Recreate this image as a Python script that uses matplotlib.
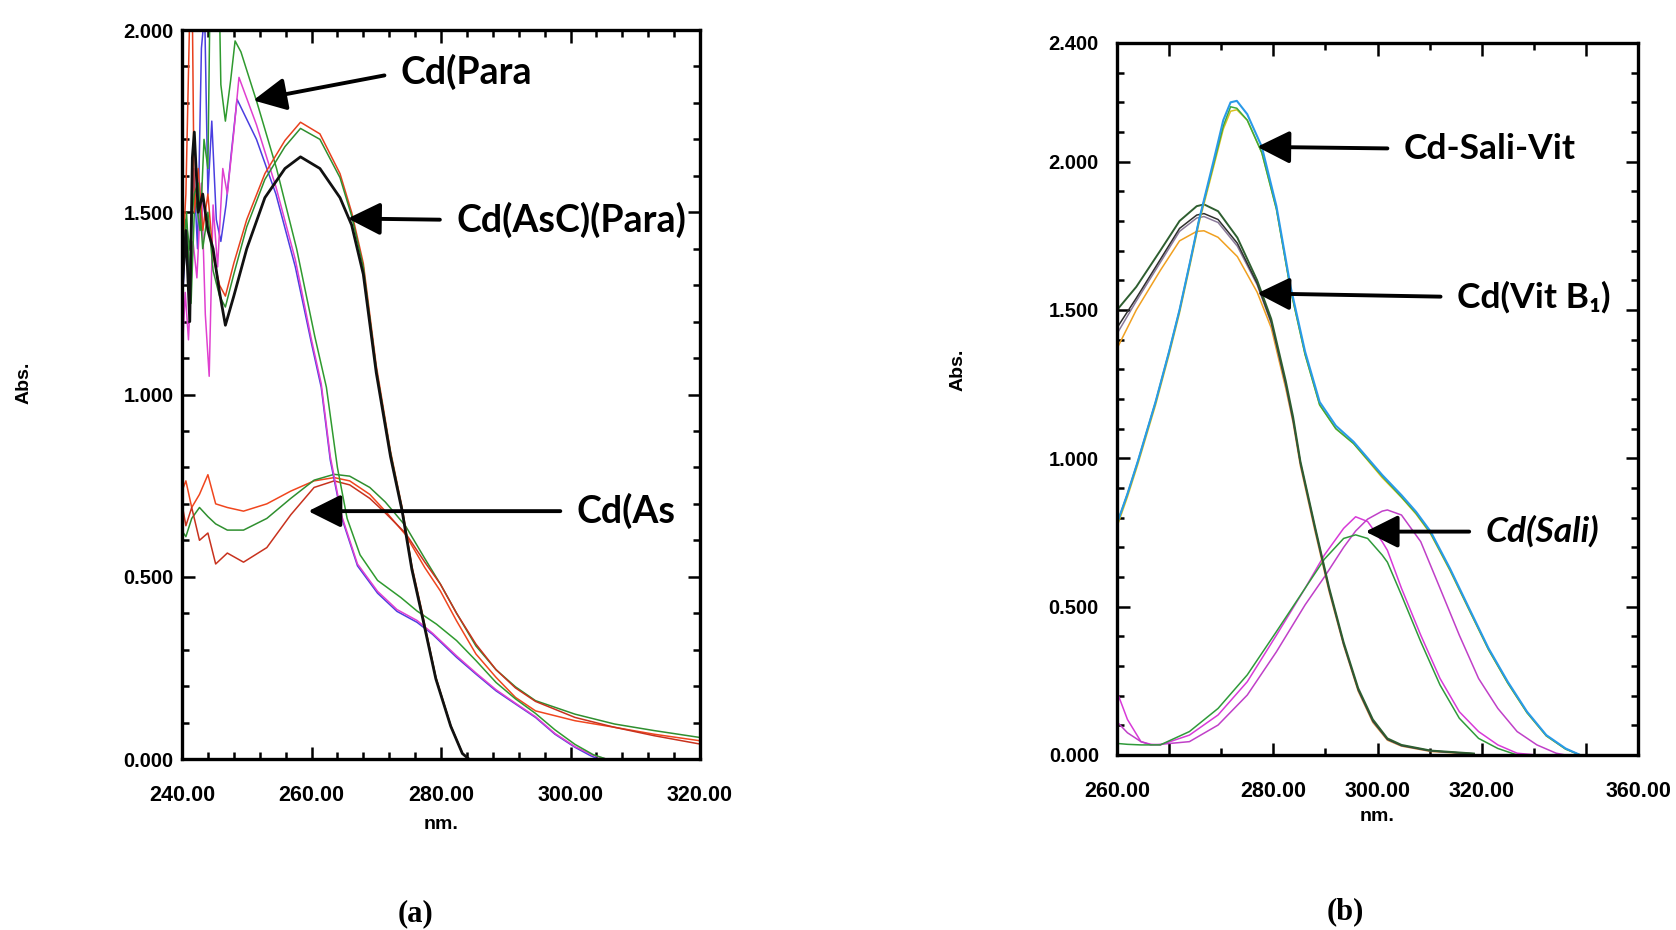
import numpy as np
import matplotlib
matplotlib.use("Agg")
import matplotlib.pyplot as plt
from matplotlib.ticker import MultipleLocator, FixedLocator, FormatStrFormatter

plt.rcParams['font.family'] = ['Liberation Sans', 'DejaVu Sans']
plt.rcParams['font.weight'] = 'bold'

# ---------------- panel (a) data ----------------
para_blue_x = [240.0, 240.6, 241.2, 241.8, 242.4, 243.0, 243.5, 244.0, 244.6, 245.3, 246.0, 246.8, 247.6,
               248.5, 251.5, 254.5, 257.5, 260.0, 261.5, 262.9, 264.7, 267.1, 270.2, 273.2, 276.3, 278.7,
               282.4, 285.4, 288.5, 291.5, 294.6, 297.6, 300.7, 303.1, 304.3]
para_blue_y = [1.22, 1.45, 1.30, 1.62, 1.40, 1.95, 2.05, 1.55, 1.75, 1.48, 1.42, 1.52, 1.66,
               1.81, 1.70, 1.55, 1.35, 1.14, 1.02, 0.82, 0.66, 0.53, 0.455, 0.405, 0.375, 0.342,
               0.279, 0.233, 0.187, 0.151, 0.114, 0.068, 0.032, 0.009, 0.0]

para_mag_x = [240.0, 240.5, 241.0, 241.7, 242.3, 243.0, 243.6, 244.2, 244.8, 245.5, 246.3, 247.0, 248.0,
              248.8, 251.5, 254.5, 257.5, 260.0, 261.5, 262.9, 264.7, 267.1, 270.2, 273.2, 276.3, 278.7,
              282.4, 285.4, 288.5, 291.5, 294.6, 297.6, 300.7, 303.5, 305.5]
para_mag_y = [1.10, 1.28, 1.15, 1.42, 1.32, 1.58, 1.22, 1.05, 1.52, 1.35, 1.62, 1.55, 1.72,
              1.87, 1.74, 1.57, 1.37, 1.15, 1.03, 0.83, 0.665, 0.535, 0.46, 0.41, 0.38, 0.345,
              0.283, 0.236, 0.19, 0.153, 0.116, 0.07, 0.034, 0.01, 0.0]

para_green_x = [240.0, 240.7, 241.4, 242.0, 242.8, 243.4, 244.0, 244.3, 244.5, 245.8, 246.0, 246.7, 247.5,
                248.2, 249.1, 251.6, 254.6, 257.7, 260.5, 262.3, 264.0, 265.5, 267.5, 270.2, 273.8, 276.3,
                279.3, 282.4, 285.4, 288.5, 291.5, 294.6, 297.6, 300.7, 303.5, 305.5]
para_green_y = [1.35, 1.50, 1.25, 1.55, 1.45, 1.70, 1.62, 2.05, 2.05, 2.05, 1.85, 1.75, 1.86,
                1.97, 1.94, 1.80, 1.62, 1.40, 1.16, 1.02, 0.80, 0.66, 0.56, 0.49, 0.443, 0.406,
                0.37, 0.325, 0.27, 0.21, 0.165, 0.125, 0.08, 0.04, 0.012, 0.0]

ascpara_x = [240.0, 240.6, 241.2, 241.6, 241.9, 242.5, 243.2, 244.0, 244.8, 245.8, 246.7, 248.0, 250.0,
             252.8, 255.9, 258.3, 261.3, 264.4, 266.2, 268.0, 270.0, 272.2, 274.0, 275.5, 277.0, 279.2,
             281.5, 283.3, 284.3]
ascpara_red_y = [1.35, 1.55, 2.05, 2.05, 1.50, 1.62, 1.45, 1.55, 1.38, 1.30, 1.27, 1.36, 1.48,
                 1.606, 1.697, 1.747, 1.715, 1.606, 1.50, 1.36, 1.08, 0.845, 0.69, 0.53, 0.41, 0.225,
                 0.092, 0.016, 0.0]
ascpara_green_y = [1.30, 1.48, 1.40, 1.50, 1.55, 1.58, 1.40, 1.50, 1.34, 1.27, 1.24, 1.33, 1.46,
                   1.59, 1.68, 1.73, 1.70, 1.595, 1.49, 1.35, 1.07, 0.84, 0.685, 0.525, 0.405, 0.223,
                   0.091, 0.016, 0.0]
ascpara_black_y = [1.28, 1.45, 1.20, 1.65, 1.72, 1.50, 1.55, 1.45, 1.40, 1.28, 1.19, 1.27, 1.40,
                   1.54, 1.62, 1.652, 1.62, 1.54, 1.465, 1.33, 1.06, 0.83, 0.68, 0.52, 0.40, 0.22,
                   0.09, 0.015, 0.0]

as_x = [240.0, 240.6, 241.5, 242.7, 244.0, 245.2, 247.0, 249.5, 253.1, 256.8, 260.4, 263.5, 265.9,
        269.0, 271.4, 274.5, 277.5, 279.9, 282.4, 285.4, 288.5, 291.5, 294.6, 300.7, 306.8, 312.9, 320.0]
as_red_y = [0.735, 0.763, 0.69, 0.726, 0.78, 0.70, 0.69, 0.68, 0.70, 0.735, 0.763, 0.772, 0.763,
            0.726, 0.68, 0.616, 0.525, 0.461, 0.379, 0.288, 0.224, 0.169, 0.132, 0.105, 0.087, 0.068, 0.05]
as_green_y = [0.626, 0.61, 0.66, 0.69, 0.665, 0.645, 0.628, 0.628, 0.66, 0.715, 0.765, 0.781, 0.776,
              0.745, 0.705, 0.64, 0.55, 0.48, 0.40, 0.31, 0.245, 0.198, 0.16, 0.123, 0.096, 0.078, 0.059]
as_dred_y = [0.70, 0.64, 0.69, 0.60, 0.62, 0.535, 0.565, 0.54, 0.58, 0.67, 0.745, 0.763, 0.752,
             0.715, 0.675, 0.62, 0.54, 0.48, 0.40, 0.315, 0.245, 0.195, 0.158, 0.114, 0.087, 0.064, 0.041]

# ---------------- panel (b) data ----------------
salivit_x = [250.0, 252.0, 254.0, 255.7, 257.4, 260.0, 262.0, 264.0, 265.7, 268.5, 270.4, 271.8, 273.0,
             275.0, 277.8, 280.6, 283.3, 286.1, 288.9, 292.0, 295.4, 300.9, 304.6, 307.4, 310.2, 313.9,
             317.6, 321.3, 325.0, 328.7, 332.4, 336.1, 338.9]
salivit_blue_y = [0.78, 0.88, 0.99, 1.09, 1.19, 1.36, 1.50, 1.66, 1.80, 2.00, 2.14, 2.20, 2.205,
                  2.16, 2.05, 1.85, 1.58, 1.36, 1.19, 1.11, 1.056, 0.944, 0.876, 0.82, 0.753, 0.629,
                  0.494, 0.36, 0.247, 0.146, 0.067, 0.022, 0.0]
salivit_green_y = [0.78, 0.88, 0.99, 1.09, 1.19, 1.36, 1.50, 1.66, 1.80, 1.99, 2.12, 2.185, 2.18,
                   2.14, 2.03, 1.84, 1.57, 1.35, 1.18, 1.10, 1.05, 0.94, 0.87, 0.815, 0.748, 0.625,
                   0.49, 0.356, 0.243, 0.143, 0.065, 0.02, 0.0]
salivit_yellow_y = [0.77, 0.87, 0.98, 1.08, 1.18, 1.35, 1.49, 1.65, 1.79, 1.98, 2.11, 2.17, 2.175,
                    2.14, 2.03, 1.84, 1.57, 1.35, 1.18, 1.10, 1.05, 0.935, 0.868, 0.812, 0.745, 0.622,
                    0.488, 0.355, 0.242, 0.142, 0.064, 0.02, 0.0]

vit_x = [250.0, 253.7, 258.3, 262.0, 265.3, 266.7, 269.4, 273.1, 276.9, 279.6, 282.4, 283.8, 285.2,
         288.0, 290.7, 293.5, 296.3, 299.1, 301.9, 304.6, 310.2, 318.5]
vit_dgreen_y = [1.50, 1.578, 1.70, 1.80, 1.85, 1.856, 1.833, 1.744, 1.60, 1.47, 1.26, 1.14, 0.99,
                0.77, 0.565, 0.38, 0.225, 0.12, 0.056, 0.034, 0.015, 0.005]
vit_black_y = [1.44, 1.54, 1.67, 1.775, 1.82, 1.825, 1.805, 1.725, 1.59, 1.46, 1.25, 1.13, 0.985,
               0.765, 0.56, 0.375, 0.22, 0.115, 0.053, 0.032, 0.014, 0.004]
vit_gray_y = [1.42, 1.53, 1.66, 1.765, 1.81, 1.815, 1.795, 1.715, 1.585, 1.455, 1.245, 1.125, 0.98,
              0.76, 0.556, 0.372, 0.218, 0.113, 0.052, 0.031, 0.013, 0.004]
vit_orange_y = [1.37, 1.50, 1.633, 1.733, 1.765, 1.767, 1.745, 1.68, 1.56, 1.44, 1.235, 1.12, 0.975,
                0.755, 0.552, 0.37, 0.215, 0.11, 0.05, 0.03, 0.012, 0.003]

sali_x = [250.0, 252.0, 254.6, 256.5, 258.3, 263.9, 269.4, 275.0, 280.6, 286.1, 289.8, 293.5, 295.8,
          298.1, 300.9, 301.9, 304.6, 308.3, 312.0, 315.7, 319.4, 323.1, 326.8, 330.6, 334.3, 336.1]
sali_mag1_y = [0.213, 0.12, 0.045, 0.036, 0.034, 0.067, 0.135, 0.247, 0.404, 0.562, 0.674, 0.764, 0.803,
               0.787, 0.719, 0.69, 0.562, 0.404, 0.258, 0.146, 0.079, 0.034, 0.006, 0.0, 0.0, 0.0]
sali_mag2_y = [0.112, 0.075, 0.045, 0.034, 0.036, 0.045, 0.101, 0.202, 0.348, 0.506, 0.60, 0.70, 0.755,
               0.795, 0.822, 0.826, 0.809, 0.719, 0.562, 0.404, 0.258, 0.157, 0.079, 0.034, 0.006, 0.0]
sali_green_y = [0.039, 0.036, 0.034, 0.034, 0.034, 0.079, 0.157, 0.27, 0.416, 0.562, 0.66, 0.73, 0.742,
                0.73, 0.674, 0.65, 0.539, 0.382, 0.236, 0.124, 0.056, 0.022, 0.0, 0.0, 0.0, 0.0]

# tick labels
a_xticks = [240, 260, 280, 300, 320]
b_xtick_pos = [250, 260, 280, 300, 320, 340, 350]
b_xtick_lab = ['260.00', '', '280.00', '300.00', '320.00', '', '360.00']
a_yticks = [0.0, 0.5, 1.0, 1.5, 2.0]
b_yticks = [0.0, 0.5, 1.0, 1.5, 2.0, 2.4]

W, H = 1676, 930
fig = plt.figure(figsize=(W / 100, H / 100), dpi=100)
ax1 = fig.add_axes([182 / W, 1 - 759 / H, 518 / W, 729 / H])
ax2 = fig.add_axes([1117 / W, 1 - 755 / H, 521 / W, 712 / H])

lw = 1.1
ax1.plot(as_x, as_red_y, color='#f0461e', lw=lw)
ax1.plot(as_x, as_green_y, color='#2f8f2f', lw=lw)
ax1.plot(as_x, as_dred_y, color='#c8321e', lw=lw)
ax1.plot(para_blue_x, para_blue_y, color='#4a3ee0', lw=lw)
ax1.plot(para_mag_x, para_mag_y, color='#e040d0', lw=lw)
ax1.plot(para_green_x, para_green_y, color='#2f9a2f', lw=lw)
ax1.plot(ascpara_x, ascpara_red_y, color='#e8401e', lw=lw)
ax1.plot(ascpara_x, ascpara_green_y, color='#2f8f2f', lw=lw)
ax1.plot(ascpara_x, ascpara_black_y, color='#111111', lw=2.0)

ax2.plot(sali_x, sali_mag1_y, color='#d83ad8', lw=lw)
ax2.plot(sali_x, sali_mag2_y, color='#c040c8', lw=lw)
ax2.plot(sali_x, sali_green_y, color='#2f9a3a', lw=lw)
ax2.plot(vit_x, vit_orange_y, color='#f0a020', lw=lw)
ax2.plot(vit_x, vit_gray_y, color='#8a7a9a', lw=lw)
ax2.plot(vit_x, vit_black_y, color='#303030', lw=lw)
ax2.plot(vit_x, vit_dgreen_y, color='#2e5e30', lw=1.4)
ax2.plot(salivit_x, salivit_yellow_y, color='#d8c020', lw=lw)
ax2.plot(salivit_x, salivit_green_y, color='#3caa3c', lw=lw)
ax2.plot(salivit_x, salivit_blue_y, color='#2a9ae8', lw=1.5)

for ax in (ax1, ax2):
    for s in ax.spines.values():
        s.set_linewidth(2.4)
    ax.tick_params(which='both', direction='in', top=True, right=True, width=1.8, colors='black')
    ax.tick_params(which='major', length=9)
    ax.tick_params(axis='y', which='major', labelsize=14.5)
    ax.tick_params(axis='x', which='major', labelsize=15.5, pad=19)
    ax.yaxis.set_major_formatter(FormatStrFormatter('%.3f'))
    ax.yaxis.set_minor_locator(MultipleLocator(0.1))
    ax.tick_params(which='minor', length=5)

ax1.set_xlim(240, 320)
ax1.set_ylim(0, 2.0)
ax1.set_xticks(a_xticks)
ax1.xaxis.set_major_formatter(FormatStrFormatter('%.2f'))
ax1.xaxis.set_minor_locator(MultipleLocator(4))
ax1.set_yticks(a_yticks)
ax1.tick_params(axis='y', which='major', pad=6)

ax2.set_xlim(250, 350)
ax2.set_ylim(0, 2.4)
ax2.xaxis.set_major_locator(FixedLocator(b_xtick_pos))
ax2.set_xticklabels(b_xtick_lab)
ax2.xaxis.set_minor_locator(FixedLocator([270, 290, 310, 330]))
ax2.set_yticks(b_yticks)
ax2.tick_params(axis='y', which='major', pad=13)

ax1.set_xlabel('nm.', fontsize=14, fontweight='bold', labelpad=7)
ax2.set_xlabel('nm.', fontsize=14, fontweight='bold', labelpad=4)
fig.text(24 / W, 1 - 383 / H, 'Abs.', rotation=90, ha='center', va='center', fontsize=14)
fig.text(958 / W, 1 - 370 / H, 'Abs.', rotation=90, ha='center', va='center', fontsize=14)

# annotations: (text, arrow tip, text position)
ann_font = ['Lato', 'DejaVu Sans']
arrow = dict(arrowstyle='-|>,head_length=0.8,head_width=0.4', mutation_scale=25, lw=2.8,
             color='black', shrinkA=10, shrinkB=0, relpos=(0, 0.5))
a_notes = [('Cd(Para', (251.0, 1.807), (273.8, 1.884)),
           ('Cd(AsC)(Para)', (265.6, 1.483), (282.4, 1.479)),
           ('Cd(As', (259.5, 0.68), (301.0, 0.68))]
b_notes = [('Cd-Sali-Vit', (276.9, 2.05), (305.1, 2.044), 'normal'),
           ('Cd(Vit B\u2081)', (276.9, 1.556), (315.3, 1.544), 'normal'),
           ('Cd(Sali)', (297.7, 0.753), (320.8, 0.753), 'italic')]
for txt, tip, pos in a_notes:
    ax1.annotate(txt, xy=tip, xytext=pos, ha='left', va='center', fontsize=27,
                 family=ann_font, weight='bold', arrowprops=arrow)
for txt, tip, pos, st in b_notes:
    ax2.annotate(txt, xy=tip, xytext=pos, ha='left', va='center', fontsize=25.5,
                 family=ann_font, weight='bold', style=st, arrowprops=arrow)

fig.text(415 / W, 1 - 914 / H, '(a)', ha='center', va='center', fontsize=22,
         family=['Liberation Serif'], weight='bold')
fig.text(1345 / W, 1 - 912 / H, '(b)', ha='center', va='center', fontsize=22,
         family=['Liberation Serif'], weight='bold')

fig.savefig('out.png', dpi=100)
